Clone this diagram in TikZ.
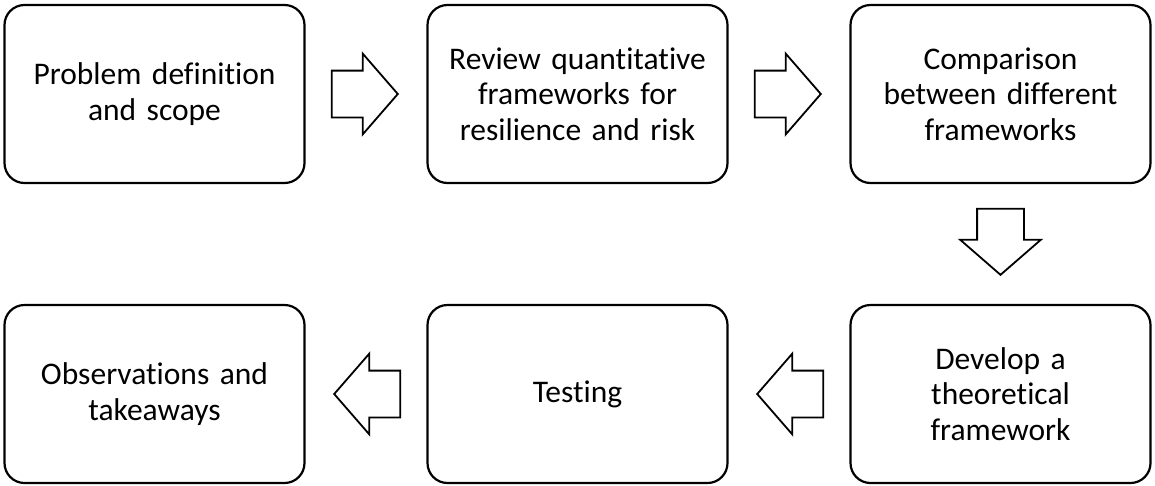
\documentclass[tikz,border=0pt]{standalone}
\usepackage{fontspec}
\setmainfont{Carlito}[Ligatures={NoCommon}]
\usetikzlibrary{shapes.arrows,calc}
\tikzset{
  stepbox/.style={draw, line width=2.2pt, rounded corners=20pt,
    minimum width=300pt, minimum height=178pt, inner sep=0pt,
    align=center, text width=292pt,
    font=\fontsize{31.5}{35.5}\selectfont},
  blockarrow/.style={single arrow, draw, line width=1.8pt, fill=white,
    minimum height=66pt, single arrow head extend=17pt,
    single arrow tip angle=98, inner sep=0pt, inner ysep=22.5pt}
}
\begin{document}
\begin{tikzpicture}[x=1pt, y=-1pt]
  \useasboundingbox (0,0) rectangle (1155,485);
  % top row, left to right
  \node[stepbox] (define)  at (154.5,94)  {Problem definition\\and scope};
  \node[stepbox] (review)  at (577.5,94)  {Review quantitative\\frameworks for\\resilience and risk};
  \node[stepbox] (compare) at (1000.5,94) {Comparison\\between different\\frameworks};
  % bottom row, right to left
  \node[stepbox] (develop) at (1000.5,394) {Develop a\\theoretical\\framework};
  \node[stepbox] (testing) at (577.5,394)  {Testing};
  \node[stepbox] (observe) at (154.5,394)  {Observations and\\takeaways};
  % block arrows between the steps
  \node[blockarrow, anchor=tip] (a1) at ($(define.east)!0.5!(review.west)+(33,0)$) {};
  \node[blockarrow, anchor=tip] (a2) at ($(review.east)!0.5!(compare.west)+(33,0)$) {};
  \node[blockarrow, anchor=tip, rotate=-90] (a3) at ($(compare.south)!0.5!(develop.north)+(0,32)$) {};
  \node[blockarrow, anchor=tip, rotate=180] (a4) at ($(develop.west)!0.5!(testing.east)+(-33,0)$) {};
  \node[blockarrow, anchor=tip, rotate=180] (a5) at ($(testing.west)!0.5!(observe.east)+(-33,0)$) {};
\end{tikzpicture}
\end{document}
